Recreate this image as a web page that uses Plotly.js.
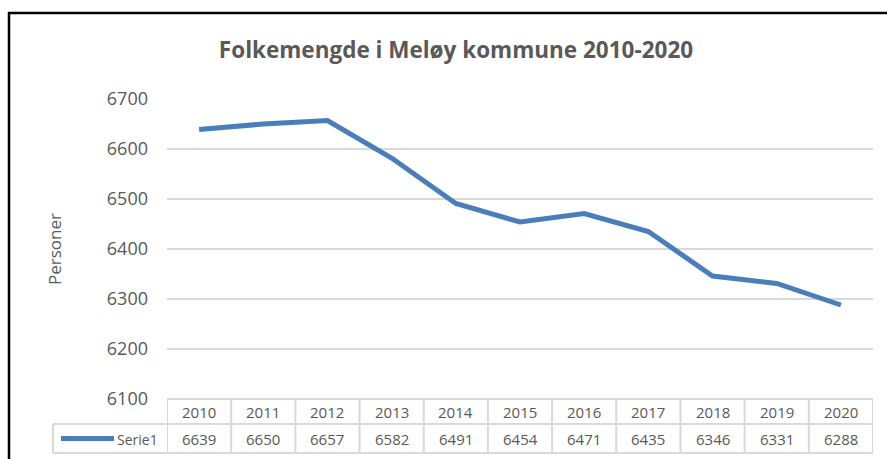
<!DOCTYPE html>
<html>
<head>
<meta charset="utf-8">
<script src="https://cdn.plot.ly/plotly-3.0.1.min.js"></script>
<style>html,body{margin:0;padding:0;background:#fff;overflow:hidden;}#chart{width:887px;height:459px;overflow:hidden;}</style>
</head>
<body>
<div id="chart"></div>
<script>
const years = ["2010","2011","2012","2013","2014","2015","2016","2017","2018","2019","2020"];
const population = [6639, 6650, 6657, 6582, 6491, 6454, 6471, 6435, 6346, 6331, 6288];
const seriesName = "Serie1";
const yTickValues = [6100, 6200, 6300, 6400, 6500, 6600, 6700];
const titleText = "Folkemengde i Meløy kommune 2010-2020";
const yTitle = "Personer";

const W = 887, H = 459;
const mL = 167, mR = 14, mT = 99, mB = 60;
const pw = W - mL - mR, ph = H - mT - mB;
const px = x => (x - mL) / pw;        // pixel -> paper x
const py = y => (H - mB - y) / ph;    // pixel -> paper y

const FONT = "Open Sans, Liberation Sans, sans-serif";
const GREY = "#595959";
const BORDER = "#d9d9d9";
const BLUE = "#4A7EBB";

const n = years.length;
const shapes = [];
// table vertical lines
for (let i = 0; i <= n; i++) {
  shapes.push({type:"line", xref:"x", yref:"paper", x0:i-0.5, x1:i-0.5, y0:py(399), y1:py(453),
    line:{color:BORDER, width:2}});
}
// horizontal lines
shapes.push({type:"line", xref:"x", yref:"paper", x0:-0.5, x1:n-0.5, y0:py(399), y1:py(399), line:{color:BORDER, width:2}});
shapes.push({type:"line", xref:"paper", yref:"paper", x0:px(53), x1:1, y0:py(424), y1:py(424), line:{color:BORDER, width:2}});
shapes.push({type:"line", xref:"paper", yref:"paper", x0:px(53), x1:1, y0:py(453), y1:py(453), line:{color:BORDER, width:2}});
shapes.push({type:"line", xref:"paper", yref:"paper", x0:px(53), x1:px(53), y0:py(424), y1:py(453), line:{color:BORDER, width:2}});
// legend key
shapes.push({type:"line", xref:"paper", yref:"paper", x0:px(61), x1:px(114), y0:py(438.5), y1:py(438.5), line:{color:BLUE, width:5}});
// outer black frame (only left and top edges are visible)
shapes.push({type:"line", xref:"paper", yref:"paper", x0:px(9), x1:px(9), y0:py(459), y1:py(12), line:{color:"#000", width:2.5}});
shapes.push({type:"line", xref:"paper", yref:"paper", x0:px(8), x1:px(887), y0:py(13), y1:py(13), line:{color:"#000", width:2.5}});

const annotations = [];
years.forEach((yr, i) => {
  annotations.push({xref:"x", yref:"paper", x:i, y:py(412), text:yr, showarrow:false,
    xanchor:"center", yanchor:"middle", font:{family:FONT, size:15, color:GREY}});
  annotations.push({xref:"x", yref:"paper", x:i, y:py(439), text:String(population[i]), showarrow:false,
    xanchor:"center", yanchor:"middle", font:{family:FONT, size:15, color:GREY}});
});
annotations.push({xref:"paper", yref:"paper", x:px(160), y:py(439), text:seriesName, showarrow:false,
  xanchor:"right", yanchor:"middle", font:{family:FONT, size:14, color:GREY}});

const trace = {
  type:"scatter", mode:"lines", x:years, y:population, name:seriesName,
  line:{color:BLUE, width:5}, hoverinfo:"skip"
};

const layout = {
  width:W, height:H,
  margin:{l:mL, r:mR, t:mT, b:mB, pad:0},
  paper_bgcolor:"#fff", plot_bgcolor:"#fff",
  showlegend:false,
  title:{text:"<b>"+titleText+"</b>", x:456/W, xref:"container", xanchor:"center", y:1-50/H, yref:"container", yanchor:"middle",
    font:{family:FONT, size:22.5, color:GREY}},
  xaxis:{type:"category", range:[-0.5, n-0.5], showgrid:false, zeroline:false, showline:false,
    showticklabels:false, ticks:"", fixedrange:true},
  yaxis:{range:[6100, 6700], tickvals:yTickValues, ticktext:yTickValues.map(String),
    showgrid:true, gridcolor:BORDER, gridwidth:1.5, zeroline:false, showline:false, ticks:"",
    ticklabelstandoff:18, tickfont:{family:FONT, size:18, color:GREY},
    title:{text:yTitle, font:{family:FONT, size:17, color:GREY}, standoff:40}, fixedrange:true},
  shapes:shapes, annotations:annotations
};

Plotly.newPlot("chart", [trace], layout, {displayModeBar:false, staticPlot:true});
</script>
</body>
</html>
